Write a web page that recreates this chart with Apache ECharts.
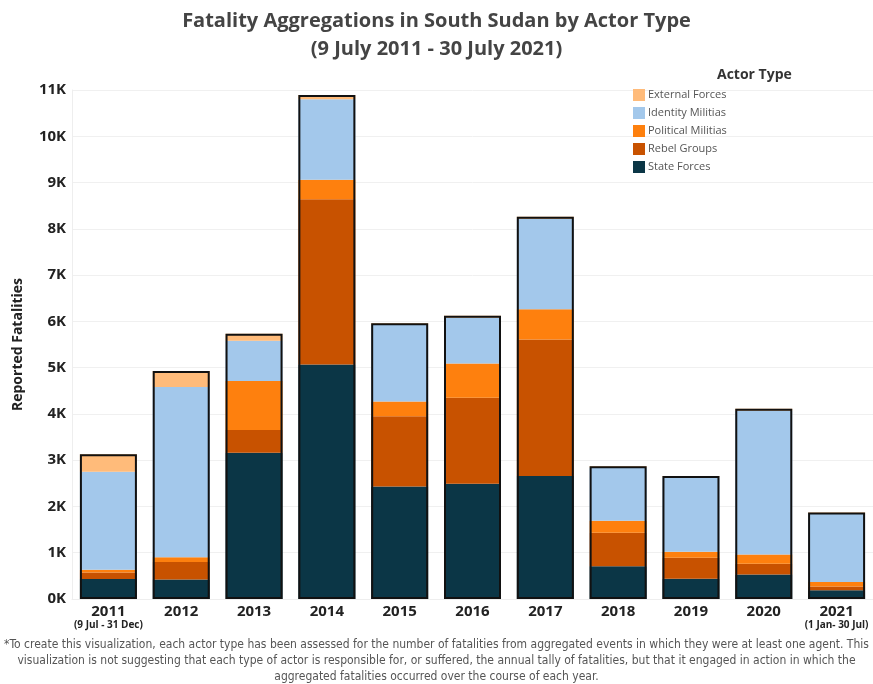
<!DOCTYPE html>
<html>
<head>
<meta charset="utf-8">
<script src="https://cdn.jsdelivr.net/npm/echarts@6/dist/echarts.min.js"></script>
<style>
  html, body { margin: 0; padding: 0; background: #fff; }
  #chart { width: 873px; height: 684px; }
</style>
</head>
<body>
<div id="chart"></div>
<script>
// 年份与说明
const years = ["2011", "2012", "2013", "2014", "2015", "2016", "2017", "2018", "2019", "2020", "2021"];
const yearNotes = ["(9 Jul - 31 Dec)", "", "", "", "", "", "", "", "", "", "(1 Jan- 30 Jul)"];

// 各类行为者的死亡人数
const stateForces      = [430, 420, 3160, 5070, 2430, 2490, 2660, 710, 440, 530, 190];
const rebelGroups      = [140, 380, 490, 3570, 1520, 1860, 2950, 720, 450, 230, 80];
const politicalMilitias = [60, 100, 1060, 420, 320, 740, 650, 260, 130, 200, 100];
const identityMilitias = [2120, 3680, 870, 1740, 1650, 990, 1950, 1150, 1610, 3110, 1470];
const externalForces   = [380, 350, 150, 90, 40, 40, 50, 30, 30, 40, 30];

const yTicks = [0, 1000, 2000, 3000, 4000, 5000, 6000, 7000, 8000, 9000, 10000, 11000];

const footnote = [
  "*To create this visualization, each actor type has been assessed for the number of fatalities from aggregated events in which they were at least one agent. This",
  "visualization is not suggesting that each type of actor is responsible for, or suffered, the annual tally of fatalities, but that it engaged in action in which the",
  "aggregated fatalities occurred over the course of each year."
];

const totals = years.map(function (y, i) {
  return stateForces[i] + rebelGroups[i] + politicalMilitias[i] + identityMilitias[i] + externalForces[i];
});

const myChart = echarts.init(document.getElementById("chart"));

const barW = 57;
function stackSeries(name, data, color) {
  return {
    name: name,
    type: "bar",
    stack: "total",
    barWidth: barW,
    itemStyle: { color: color },
    data: data,
  };
}

const option = {
  animation: false,
  textStyle: { fontFamily: "Open Sans" },
  title: [
    {
      text: "Fatality Aggregations in South Sudan by Actor Type\n(9 July 2011 - 30 July 2021)",
      left: "center",
      top: 2,
      textStyle: {
        fontFamily: "Open Sans",
        fontSize: 20,
        fontWeight: "bold",
        color: "#444",
        lineHeight: 28,
      },
    },
    {
      text: "Actor Type",
      left: 712,
      top: 63,
      textStyle: { fontFamily: "Open Sans", fontSize: 14, fontWeight: "bold", color: "#333" },
    },
  ],
  legend: {
    orient: "vertical",
    left: 628,
    top: 84,
    itemWidth: 12,
    itemHeight: 12,
    itemGap: 6,
    icon: "rect",
    data: ["External Forces", "Identity Militias", "Political Militias", "Rebel Groups", "State Forces"],
    textStyle: { fontFamily: "Open Sans", fontSize: 11, color: "#555", padding: [0, 0, 0, -2] },
  },
  grid: {
    left: 72,
    right: 0,
    top: 90,
    bottom: 85,
  },
  xAxis: {
    type: "category",
    data: years,
    axisTick: { show: false },
    axisLine: { lineStyle: { color: "#eee" } },
    axisLabel: {
      margin: 5,
      interval: 0,
      formatter: function (value, idx) {
        const note = yearNotes[idx];
        return note ? "{y|" + value + "}\n{n|" + note + "}" : "{y|" + value + "}";
      },
      rich: {
        y: { fontFamily: "Open Sans", fontSize: 15, fontWeight: "bold", color: "#222", lineHeight: 16 },
        n: { fontFamily: "Open Sans", fontSize: 10, fontWeight: "bold", color: "#222", lineHeight: 11 },
      },
    },
  },
  yAxis: {
    type: "value",
    min: yTicks[0],
    max: yTicks[yTicks.length - 1],
    interval: 1000,
    name: "Reported Fatalities",
    nameLocation: "middle",
    nameGap: 47,
    nameTextStyle: { fontFamily: "Open Sans", fontSize: 14, fontWeight: "bold", color: "#222" },
    axisLine: { show: true, lineStyle: { color: "#eee" } },
    axisTick: { show: false },
    splitLine: { lineStyle: { color: "#f0f0f0" } },
    axisLabel: {
      margin: 6,
      fontFamily: "Open Sans",
      fontSize: 15,
      fontWeight: "bold",
      color: "#222",
      formatter: function (v) { return v / 1000 + "K"; },
    },
  },
  series: [
    stackSeries("State Forces", stateForces, "#0b3646"),
    stackSeries("Rebel Groups", rebelGroups, "#c85200"),
    stackSeries("Political Militias", politicalMilitias, "#fe800e"),
    stackSeries("Identity Militias", identityMilitias, "#a3c8eb"),
    stackSeries("External Forces", externalForces, "#ffbb7a"),
    {
      // 整个柱子的黑色外框
      name: "Total",
      type: "bar",
      barWidth: barW,
      barGap: "-100%",
      z: 10,
      silent: true,
      itemStyle: { color: "transparent", borderColor: "#111", borderWidth: 2 },
      data: totals,
    },
  ],
  graphic: [
    {
      type: "text",
      left: "center",
      top: 637,
      style: {
        text: footnote.join("\n"),
        fontFamily: "'DejaVu Sans Condensed', 'Liberation Sans', sans-serif",
        fontSize: 12,
        lineHeight: 16,
        fill: "#555",
        textAlign: "center",
      },
    },
  ],
};

myChart.setOption(option);
</script>
</body>
</html>
